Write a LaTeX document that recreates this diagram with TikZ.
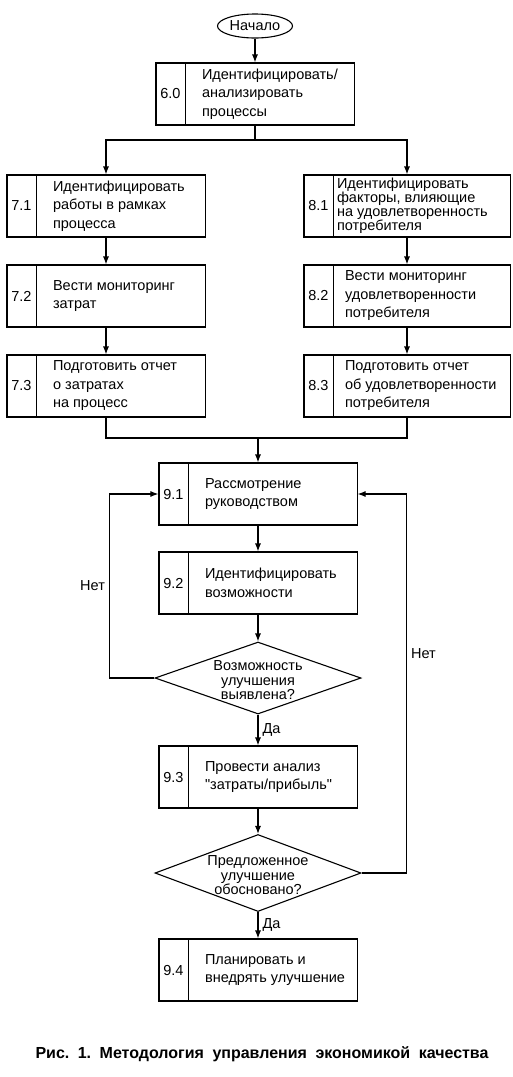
\documentclass[tikz,border=0pt]{standalone}
\usepackage{fontspec}
\setmainfont{Liberation Sans}[Ligatures=TeXOff]
\usetikzlibrary{arrows.meta,positioning,shapes.geometric,shapes.multipart,calc}
\newcommand{\stepnum}[1]{\makebox[27pt]{#1}\nodepart{two}}
\newcommand{\steptext}[3][15pt]{\parbox[c][60pt][c]{#2}{\leftskip=#1 #3}}
\newcommand{\asktext}[1]{\smash{\raisebox{-6pt}{\parbox[c]{140pt}{\centering\baselineskip=14.5pt #1}}}}
\tikzset{
  stepbox/.style={draw, line width=1.1pt, rectangle split, rectangle split horizontal, rectangle split parts=2, inner sep=1pt, font=\fontsize{14.5pt}{18.5pt}\selectfont},
  startnode/.style={draw, ellipse, line width=1.1pt, minimum width=75pt, minimum height=24pt, inner sep=0pt, font=\fontsize{14.5pt}{17pt}\selectfont},
  decision/.style={draw, diamond, aspect=3, line width=1.1pt, minimum width=206pt, minimum height=72pt, inner sep=0pt, font=\fontsize{14.5pt}{14.5pt}\selectfont},
  arrow/.style={-{Latex[length=8pt,width=6pt]}, line width=1.1pt},
  line/.style={line width=1.1pt},
  answer/.style={font=\fontsize{14.5pt}{17pt}\selectfont, inner sep=4pt}
}
\begin{document}
\begin{tikzpicture}[x=1pt,y=-1pt]
  \useasboundingbox (0,0) rectangle (513,1077);
  \node[startnode] (start) at (255,26) {Начало};
  \node[stepbox] (b60) at (255,94) {\stepnum{6.0}\steptext{166pt}{Идентифицировать/\\анализировать\\процессы}};
  \coordinate (split) at (255,140);
  \node[stepbox] (b71) at (106,206) {\stepnum{7.1}\steptext{166pt}{Идентифицировать\\работы в рамках\\процесса}};
  \node[stepbox] (b72) at (106,296) {\stepnum{7.2}\steptext{166pt}{Вести мониторинг\\затрат}};
  \node[stepbox] (b73) at (106,386) {\stepnum{7.3}\steptext{166pt}{Подготовить отчет\\о затратах\\на процесс}};
  \node[stepbox] (b81) at (407,206) {\stepnum{8.1}\steptext[2pt]{174pt}{\baselineskip=14pt Идентифицировать\\факторы, влияющие\\на удовлетворенность\\потребителя}};
  \node[stepbox] (b82) at (407,296) {\stepnum{8.2}\steptext[10pt]{174pt}{Вести мониторинг\\удовлетворенности\\потребителя}};
  \node[stepbox] (b83) at (407,386) {\stepnum{8.3}\steptext[10pt]{174pt}{Подготовить отчет\\об удовлетворенности\\потребителя}};
  \coordinate (join) at (258,438);
  \node[stepbox] (b91) at (258,494) {\stepnum{9.1}\steptext{166pt}{Рассмотрение\\руководством}};
  \node[stepbox] (b92) at (258,583) {\stepnum{9.2}\steptext{166pt}{Идентифицировать\\возможности}};
  \node[decision] (d1) at (258,678) {\asktext{Возможность\\улучшения\\выявлена?}};
  \node[stepbox] (b93) at (258,777) {\stepnum{9.3}\steptext{166pt}{Провести анализ\\"затраты/прибыль"}};
  \node[decision, minimum height=77pt] (d2) at (258,873) {\asktext{Предложенное\\улучшение\\обосновано?}};
  \node[stepbox] (b94) at (258,970) {\stepnum{9.4}\steptext{166pt}{Планировать и\\внедрять улучшение}};
  \node[font=\bfseries\fontsize{16pt}{18pt}\selectfont] (caption) at (262,1054) {\makebox[453pt][s]{Рис.\ 1.\ Методология управления экономикой качества}};

  \draw[arrow] (start) -- (b60);
  \draw[line] (b60) -- (split);
  \draw[arrow] (split) -| (b71.north);
  \draw[arrow] (split) -| (b81.north);
  \draw[arrow] (b71) -- (b72);
  \draw[arrow] (b72) -- (b73);
  \draw[arrow] (b81) -- (b82);
  \draw[arrow] (b82) -- (b83);
  \draw[line] (b73.south) |- (join) -| (b83.south);
  \draw[arrow] (join) -- (b91);
  \draw[arrow] (b91) -- (b92);
  \draw[arrow] (b92) -- (d1);
  \draw[arrow] (d1) -- node[answer, right]{Да} (b93);
  \draw[arrow] (b93) -- (d2);
  \draw[arrow] (d2) -- node[answer, right]{Да} (b94);
  \draw[arrow] (d1.west) -- ++(-45,0) |- node[answer, pos=0.25, left]{Нет} (b91.west);
  \draw[arrow] (d2.east) -- ++(45,0) |- node[answer, pos=0.29, right]{Нет} (b91.east);
\end{tikzpicture}
\end{document}
